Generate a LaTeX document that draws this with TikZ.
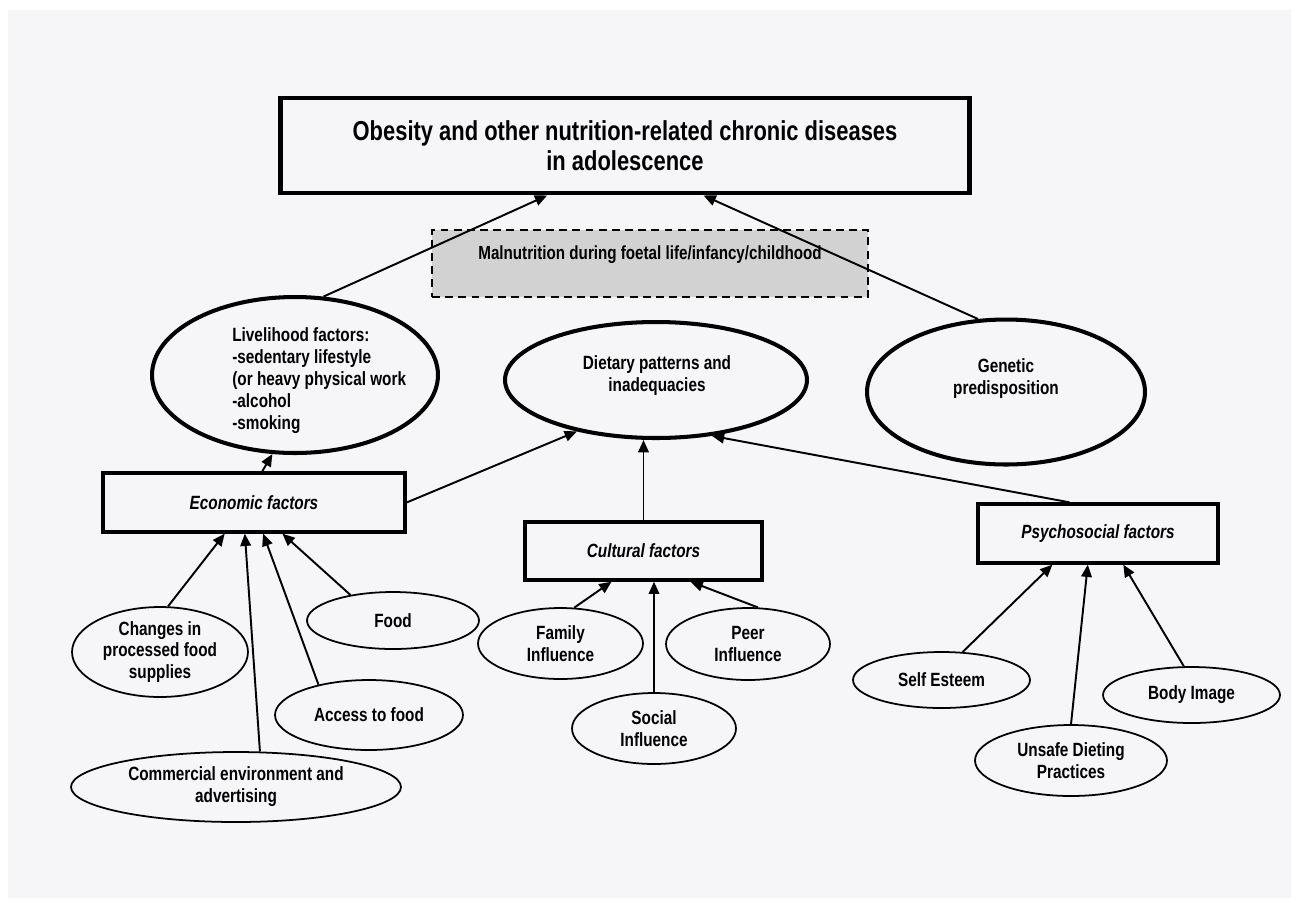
\documentclass[tikz,border=0pt]{standalone}
\usepackage{fontspec}
\setmainfont{Liberation Sans}[FakeStretch=0.8]
\usetikzlibrary{shapes.geometric}
\usetikzlibrary{arrows.meta, positioning, calc}
\definecolor{pagecolor}{RGB}{246,246,248}
\definecolor{boxgray}{RGB}{210,210,210}

\begin{document}
\begin{tikzpicture}[x=0.02cm, y=-0.02cm,
    bigbox/.style={draw, line width=2.8pt, minimum width=13.8cm, minimum height=1.9cm, align=center, font=\bfseries\fontsize{15.6}{17}\selectfont},
    factorbox/.style={draw, line width=1.9pt, inner sep=0pt, font=\bfseries\itshape\fontsize{10.9}{12.5}\selectfont},
    bigell/.style={draw, ellipse, line width=2.3pt, inner sep=0pt},
    smallell/.style={draw, ellipse, line width=1pt, inner sep=0pt, align=center, font=\bfseries\fontsize{10.9}{12.5}\selectfont},
    lbl/.style={inner sep=0pt, align=center, font=\bfseries\fontsize{10.9}{12.5}\selectfont},
    arr/.style={-{Triangle[length=7pt,width=6pt]}, line width=1.1pt}]

        \useasboundingbox (0,0) rectangle (1298,907);
        \fill[pagecolor] (8,10) rectangle (1291,898);

        % Title and malnutrition box
        \node[bigbox] (obes) at (625,145.5) {Obesity and other nutrition-related chronic diseases\\in adolescence};
        \node[draw, dash pattern=on 4.5pt off 3pt, line width=1pt, fill=boxgray, minimum width=8.72cm, minimum height=1.34cm,
              text height=0.27cm, text depth=0.45cm, font=\bfseries\fontsize{10.8}{12}\selectfont] (maln) at (650,263.5)
              {Malnutrition during foetal life/infancy/childhood};

        % Big ellipses
        \node[bigell, minimum width=5.72cm, minimum height=3.12cm] (live) at (295,375) {};
        \node[lbl, align=left, anchor=west] (livetext) at (232,381)
              {Livelihood factors:\\-sedentary lifestyle\\(or heavy physical work\\-alcohol\\-smoking};
        \node[bigell, minimum width=6.04cm, minimum height=2.32cm] (diet) at (656,380) {};
        \node[lbl] (diettext) at (657,376) {Dietary patterns and\\inadequacies};
        \node[bigell, minimum width=5.56cm, minimum height=2.9cm] (gen) at (1006,392) {};
        \node[lbl] (gentext) at (1006,378.5) {Genetic\\predisposition};

        % Factor boxes
        \node[factorbox, minimum width=6.04cm, minimum height=1.18cm] (econ) at (254,502.5) {Economic factors};
        \node[factorbox, minimum width=4.74cm, minimum height=1.16cm] (cult) at (643.5,551) {Cultural factors};
        \node[factorbox, minimum width=4.8cm, minimum height=1.18cm] (psych) at (1098,533.5) {Psychosocial factors};

        % Economic influences
        \node[smallell, minimum width=3.52cm, minimum height=1.8cm] (chg) at (160,652) {Changes in\\processed food\\supplies};
        \node[smallell, minimum width=3.44cm, minimum height=1.14cm] (food) at (393,620.5) {Food};
        \node[smallell, minimum width=3.76cm, minimum height=1.4cm] (acc) at (369,715) {Access to food};
        \node[smallell, minimum width=6.6cm, minimum height=1.4cm] (com) at (236,787) {Commercial environment and\\advertising};

        % Cultural influences
        \node[smallell, minimum width=3.3cm, minimum height=1.42cm] (fam) at (560.5,643.5) {Family\\Influence};
        \node[smallell, minimum width=3.28cm, minimum height=1.44cm] (peer) at (748,644) {Peer\\Influence};
        \node[smallell, minimum width=3.28cm, minimum height=1.42cm] (soc) at (654,728.5) {Social\\Influence};

        % Psychosocial influences
        \node[smallell, minimum width=3.54cm, minimum height=1.12cm] (self) at (941.5,680) {Self Esteem};
        \node[smallell, minimum width=3.84cm, minimum height=1.42cm] (uns) at (1071,760.5) {Unsafe Dieting\\Practices};
        \node[smallell, minimum width=3.54cm, minimum height=1.12cm] (body) at (1191.5,695) {Body Image};

        % Arrows into the title box
        \draw[arr] (live.70) -- ($(obes.south west)!0.388!(obes.south east)$);
        \draw[arr] (gen.111) -- ($(obes.south west)!0.613!(obes.south east)$);

        % Arrows into the ellipses
        \draw[arr] ($(econ.north west)!0.527!(econ.north east)$) -- (live.254);
        \draw[arr] (econ.east) -- (diet.213);
        \draw[arr] (cult.north) -- (cult.north |- diet.south);
        \draw[arr] ($(psych.north west)!0.383!(psych.north east)$) -- (diet.315);

        % Arrows into the economic box
        \draw[arr] (chg.80) -- ($(econ.south west)!0.404!(econ.south east)$);
        \draw[arr] (com.56) -- ($(econ.south west)!0.47!(econ.south east)$);
        \draw[arr] (acc.149) -- ($(econ.south west)!0.53!(econ.south east)$);
        \draw[arr] (food.149) -- ($(econ.south west)!0.593!(econ.south east)$);

        % Arrows into the cultural box
        \draw[arr] (fam.69) -- ($(cult.south west)!0.367!(cult.south east)$);
        \draw[arr] (soc.north) -- (soc.north |- cult.south);
        \draw[arr] (peer.75) -- ($(cult.south west)!0.696!(cult.south east)$);

        % Arrows into the psychosocial box
        \draw[arr] (self.53) -- ($(psych.south west)!0.3125!(psych.south east)$);
        \draw[arr] (uns.north) -- ($(psych.south west)!0.458!(psych.south east)$);
        \draw[arr] (body.105) -- ($(psych.south west)!0.604!(psych.south east)$);
    \end{tikzpicture}
\end{document}
